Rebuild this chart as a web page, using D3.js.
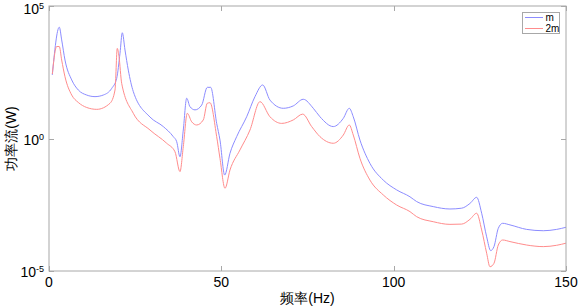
<!DOCTYPE html>
<html>
<head>
<meta charset="utf-8">
<script src="https://cdn.jsdelivr.net/npm/d3@7"></script>
<style>
  body { margin: 0; background: #fff; }
  text { font-family: "Liberation Sans", Arial, sans-serif; }
</style>
</head>
<body>
<script>
// frequency (Hz) and log10 of power flow
const freqM = [0.96, 2.99, 3.68, 4.64, 6.59, 8.5, 10.94, 13.35, 15.75, 18.19, 19.64, 20.6, 21.27, 22.05, 23.01, 24.46, 29.3, 33.16, 36.06, 37.05, 38.0, 38.96, 39.95, 40.9, 42.36, 44.3, 45.92, 46.91, 48.65, 49.61, 50.97, 52.51, 54.45, 57.35, 59.76, 61.99, 64.11, 67.97, 70.87, 73.77, 76.68, 78.62, 82.48, 85.38, 87.12, 88.28, 90.22, 93.12, 96.98, 100.87, 104.73, 106.67, 111.49, 116.33, 119.73, 122.14, 124.08, 125.53, 126.98, 128.14, 129.1, 130.35, 131.62, 133.74, 138.58, 143.4, 147.29, 150];
const logM = [2.40, 4.20, 3.72, 2.96, 2.21, 1.83, 1.64, 1.58, 1.64, 1.89, 2.27, 3.22, 3.99, 3.34, 2.58, 1.77, 0.81, 0.45, 0.07, -0.12, -0.69, 0.32, 1.52, 1.20, 1.08, 1.26, 1.93, 1.93, 0.57, -0.06, -1.38, -0.56, 0.07, 0.82, 1.58, 2.02, 1.45, 1.14, 1.23, 1.48, 1.14, 0.82, 0.45, 0.76, 1.14, 0.82, -0.06, -0.94, -1.57, -1.94, -2.20, -2.38, -2.57, -2.66, -2.63, -2.45, -2.22, -2.82, -3.71, -4.23, -4.08, -3.39, -3.20, -3.26, -3.43, -3.48, -3.43, -3.35];

const freq2M = [0.96, 2.23, 2.99, 3.68, 4.64, 6.59, 8.5, 10.94, 13.84, 17.7, 19.15, 19.81, 20.31, 21.09, 24.46, 29.3, 34.15, 36.55, 38.0, 38.96, 40.12, 41.4, 42.85, 44.76, 45.92, 46.71, 48.65, 49.61, 51.06, 52.51, 55.41, 58.31, 61.21, 64.11, 67.51, 70.87, 73.6, 76.21, 78.62, 82.48, 85.38, 87.12, 88.28, 90.22, 93.12, 96.98, 100.87, 104.73, 106.67, 111.49, 116.33, 119.73, 122.14, 124.08, 125.53, 126.98, 127.94, 129.1, 130.35, 131.62, 133.74, 138.58, 143.4, 147.29, 150];
const log2M = [2.43, 3.47, 3.47, 2.96, 2.33, 1.64, 1.36, 1.17, 1.10, 1.33, 1.83, 3.40, 3.09, 2.08, 0.95, 0.32, -0.18, -0.50, -1.25, -0.31, 0.95, 0.63, 0.51, 0.70, 1.33, 1.35, 0.07, -0.75, -1.88, -1.19, -0.43, 0.32, 1.39, 0.82, 0.57, 0.70, 0.92, 0.45, 0.07, -0.18, 0.13, 0.51, 0.13, -0.75, -1.57, -2.13, -2.51, -2.76, -2.95, -3.14, -3.24, -3.23, -3.05, -2.82, -3.45, -4.33, -4.84, -4.71, -4.02, -3.83, -3.89, -4.02, -4.08, -4.03, -3.95];

const xTicks = [0, 50, 100, 150];
const yTicks = [-5, 0, 5];
const seriesNames = ["m", "2m"];
const seriesColors = ["#8c8cff", "#ff8c8c"];

function main() {
    const W = 579, H = 308;
    const left = 49, right = 566, top = 6, bottom = 271;

    const svg = d3.select("body").append("svg")
        .attr("width", W)
        .attr("height", H);

    const x = d3.scaleLinear().domain([0, 150]).range([left, right]);
    const y = d3.scaleLog().domain([1e-5, 1e5]).range([bottom, top]);

    const frame = "#a8a8a8";

    // curves
    const series = [
        freqM.map((f, i) => ({ f: f, v: Math.pow(10, logM[i]) })),
        freq2M.map((f, i) => ({ f: f, v: Math.pow(10, log2M[i]) }))
    ];
    const line = d3.line()
        .x(d => x(d.f))
        .y(d => y(d.v))
        .curve(d3.curveMonotoneX);

    svg.selectAll(".curve")
        .data(series)
        .join("path")
        .attr("class", "curve")
        .attr("fill", "none")
        .attr("stroke", (d, i) => seriesColors[i])
        .attr("stroke-width", 1)
        .attr("d", line);

    // frame
    svg.append("rect")
        .attr("x", left).attr("y", top)
        .attr("width", right - left).attr("height", bottom - top)
        .attr("fill", "none").attr("stroke", frame).attr("stroke-width", 1);

    // x ticks (inward, top and bottom)
    const xt = svg.append("g");
    xTicks.forEach(t => {
        const px = Math.round(x(t)) + 0.5;
        xt.append("line").attr("x1", px).attr("x2", px).attr("y1", bottom).attr("y2", bottom - 5).attr("stroke", frame);
        xt.append("line").attr("x1", px).attr("x2", px).attr("y1", top).attr("y2", top + 5).attr("stroke", frame);
        xt.append("text")
            .attr("x", x(t)).attr("y", bottom + 16)
            .attr("text-anchor", "middle")
            .attr("font-size", 14)
            .text(t);
    });

    // y ticks (inward, left and right) with 10^n labels
    const yt = svg.append("g");
    yTicks.forEach(e => {
        const py = Math.round(y(Math.pow(10, e))) + 0.5;
        yt.append("line").attr("x1", left).attr("x2", left + 5).attr("y1", py).attr("y2", py).attr("stroke", frame);
        yt.append("line").attr("x1", right).attr("x2", right - 5).attr("y1", py).attr("y2", py).attr("stroke", frame);
        const label = yt.append("text")
            .attr("x", left - 5).attr("y", Math.max(y(Math.pow(10, e)) + 6, 14))
            .attr("text-anchor", "end")
            .attr("font-size", 14);
        label.append("tspan").text("10");
        label.append("tspan").attr("font-size", 9).attr("dy", -5).text(e);
    });

    // axis titles
    svg.append("text")
        .attr("x", (left + right) / 2).attr("y", 303)
        .attr("text-anchor", "middle")
        .attr("font-size", 14)
        .text("频率(Hz)");

    svg.append("text")
        .attr("transform", "translate(16," + ((top + bottom) / 2) + ") rotate(-90)")
        .attr("text-anchor", "middle")
        .attr("font-size", 14)
        .text("功率流(W)");

    // legend
    const lg = svg.append("g");
    lg.append("rect")
        .attr("x", 522.5).attr("y", 12.5)
        .attr("width", 37).attr("height", 21)
        .attr("fill", "#fff").attr("stroke", frame);
    seriesNames.forEach((n, i) => {
        const ly = 17.5 + i * 11;
        lg.append("line").attr("x1", 525).attr("x2", 543).attr("y1", ly).attr("y2", ly)
            .attr("stroke", seriesColors[i]);
        lg.append("text").attr("x", 545.5).attr("y", ly + 3.5)
            .attr("font-size", 10).text(n);
    });
}
main();
</script>
</body>
</html>
